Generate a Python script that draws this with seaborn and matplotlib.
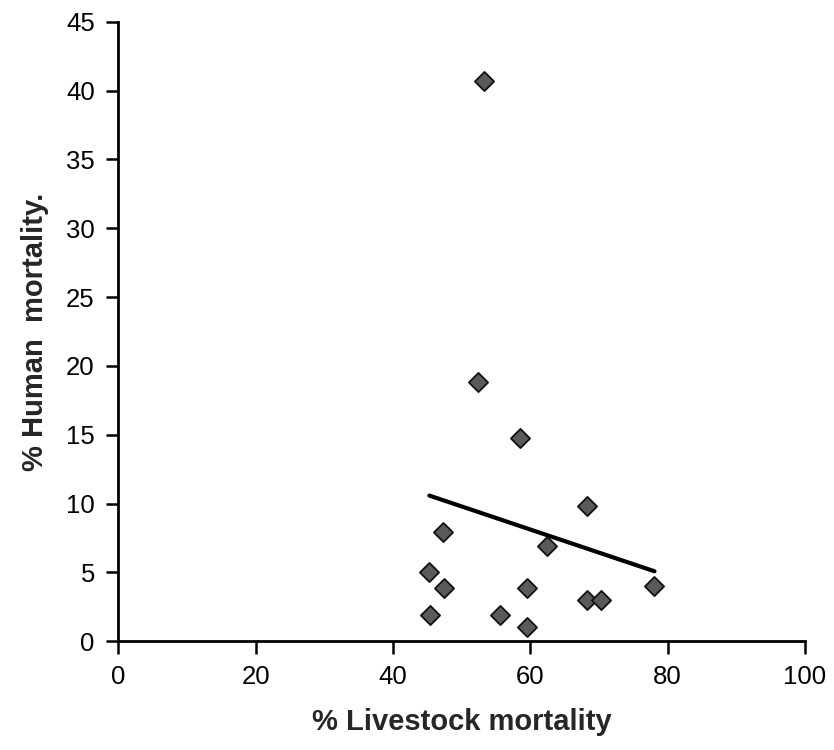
import matplotlib
matplotlib.use("Agg")
import matplotlib.pyplot as plt
import seaborn as sns
import pandas as pd

livestock = [53.3, 52.4, 58.5, 68.3, 47.3, 62.5, 45.3, 47.5, 59.5, 68.2, 70.3, 78.1, 45.4, 55.6, 59.5]
human = [40.7, 18.8, 14.8, 9.8, 7.9, 6.9, 5.0, 3.9, 3.9, 3.0, 3.0, 4.0, 1.9, 1.9, 1.0]

df = pd.DataFrame({"livestock": livestock, "human": human})

sns.set_style("white")
plt.rcParams["font.family"] = ["Liberation Sans", "DejaVu Sans"]

fig = plt.figure(figsize=(8.34, 7.5), dpi=100)
ax = fig.add_axes([0.142, 0.145, 0.823, 0.826])

# linear trend line (ordinary least squares, no band)
sns.regplot(data=df, x="livestock", y="human", scatter=False, ci=None,
            line_kws={"color": "black", "linewidth": 3}, ax=ax)
sns.scatterplot(data=df, x="livestock", y="human", marker="D", s=95,
                color="#5a5a5a", edgecolor="#111111", linewidth=1.3, ax=ax, zorder=3)

ax.set_xlim(0, 100)
ax.set_ylim(0, 45)
ax.set_xticks(range(0, 101, 20))
ax.set_yticks(range(0, 46, 5))
sns.despine(ax=ax)
for s in ["left", "bottom"]:
    ax.spines[s].set_linewidth(2)
    ax.spines[s].set_color("black")
ax.tick_params(axis="both", direction="out", length=9, width=1.8, colors="black",
               labelsize=18.5, pad=8, left=True, bottom=True)

ax.set_xlabel("% Livestock mortality", fontsize=21, fontweight="bold", labelpad=14)
ax.set_ylabel("% Human  mortality.", fontsize=21, fontweight="bold", labelpad=12)

fig.savefig("out.png", dpi=100)
